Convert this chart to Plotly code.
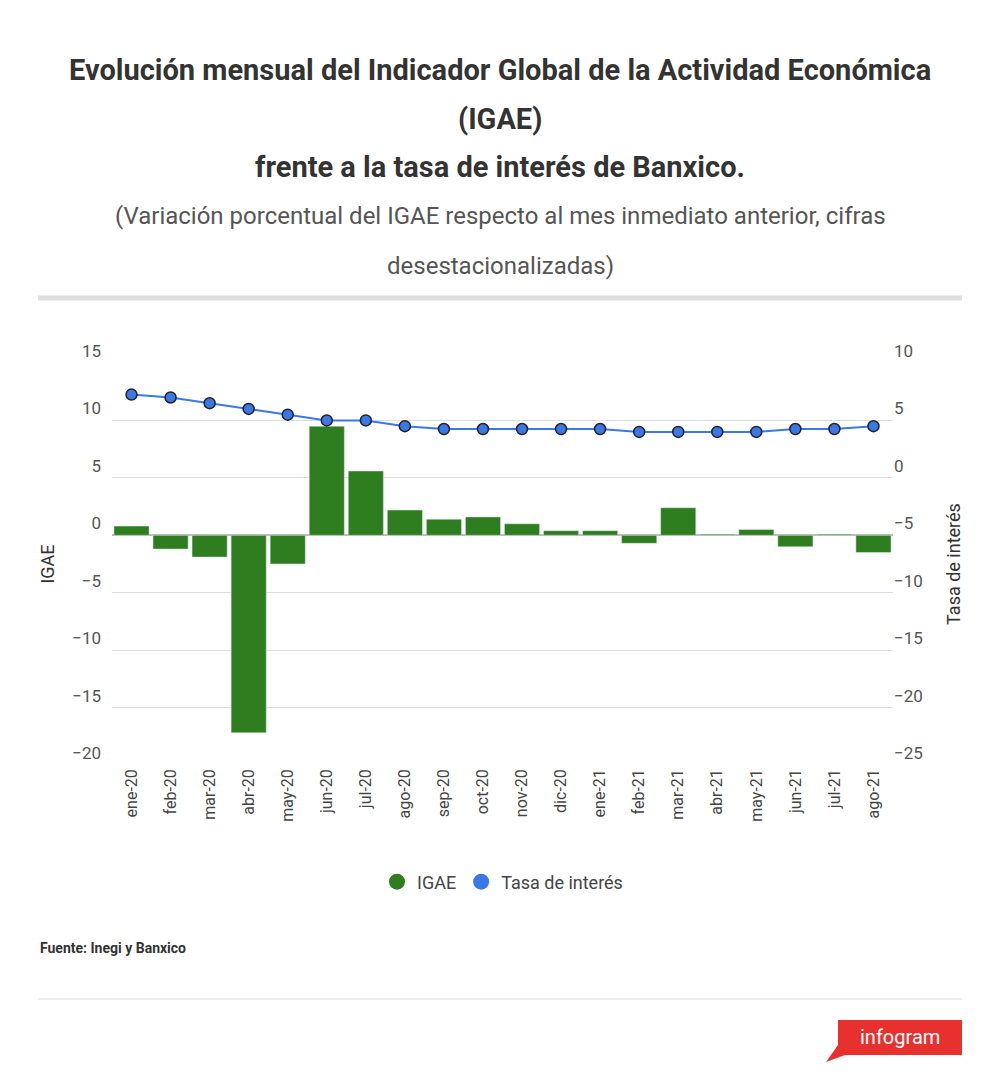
import plotly.graph_objects as go

months = ["ene-20","feb-20","mar-20","abr-20","may-20","jun-20","jul-20","ago-20","sep-20","oct-20","nov-20","dic-20",
          "ene-21","feb-21","mar-21","abr-21","may-21","jun-21","jul-21","ago-21"]
igae = [0.8,-1.2,-1.9,-17.2,-2.5,9.5,5.6,2.2,1.4,1.6,1.0,0.4,0.4,-0.7,2.4,0.1,0.5,-1.0,0.1,-1.5]
tasa = [7.25,7.0,6.5,6.0,5.5,5.0,5.0,4.5,4.25,4.25,4.25,4.25,4.25,4.0,4.0,4.0,4.0,4.25,4.25,4.5]

OFF = 8
T, B, L, R = 355, 331, 104, 115
ph = 1088 - T - B
pw = 1000 - L - R
def py(pix):
    return (1088 - B - (pix - OFF)) / ph
def px(pix):
    return ((pix - OFF) - L) / pw

GREEN, BLUE = "#2e7d1e", "#3a78e8"
fig = go.Figure()
fig.add_trace(go.Bar(x=months, y=igae, name="IGAE", marker_color=GREEN, yaxis="y", showlegend=False))
fig.add_trace(go.Scatter(x=months, y=tasa, name="Tasa de interés", yaxis="y2", mode="lines+markers",
                         line=dict(color=BLUE, width=2), showlegend=False,
                         marker=dict(size=11, color=BLUE, line=dict(color="#222", width=1.5))))
fig.add_trace(go.Scatter(x=[None], y=[None], mode="markers", name="IGAE", marker=dict(size=20, color=GREEN)))
fig.add_trace(go.Scatter(x=[None], y=[None], mode="markers", name="Tasa de interés", marker=dict(size=20, color=BLUE)))

def ann(text, x, y, size, color, xanchor="center"):
    return dict(text=text, xref="paper", yref="paper", x=px(x), y=py(y), xanchor=xanchor, yanchor="middle",
                showarrow=False, font=dict(size=size, color=color))

fig.update_layout(
    width=1000, height=1088, plot_bgcolor="white", paper_bgcolor="white",
    font=dict(family="Roboto", color="#555", size=17),
    margin=dict(l=L, r=R, t=T, b=B, autoexpand=False),
    bargap=0.1, showlegend=True,
    legend=dict(orientation="h", x=0.5, xanchor="center", y=py(882), yanchor="middle", font=dict(size=18, color="#444")),
    xaxis=dict(range=[-0.5, len(months) - 0.5], tickangle=-90, showgrid=False, tickfont=dict(size=16, color="#444"),
               ticks="", showline=False, automargin=False),
    yaxis=dict(range=[-20, 15], dtick=5, gridcolor="#ddd", zeroline=True, zerolinecolor="#bbb",
               ticklabelposition="outside top", automargin=False, ticklabelstandoff=10,
               title=dict(text="IGAE", font=dict(size=18, color="#333"), standoff=12), tickfont=dict(color="#555")),
    yaxis2=dict(range=[-25, 10], dtick=5, overlaying="y", side="right", showgrid=False, zeroline=False,
                ticklabelposition="outside top", automargin=False,
                title=dict(text="Tasa de interés", font=dict(size=18, color="#333"), standoff=25), tickfont=dict(color="#555")),
    annotations=[
        ann("<b>Evolución mensual del Indicador Global de la Actividad Económica</b>", 500, 70, 29, "#333"),
        ann("<b>(IGAE)</b>", 500, 119, 29, "#333"),
        ann("<b>frente a la tasa de interés de Banxico.</b>", 500, 167, 29, "#333"),
        ann("(Variación porcentual del IGAE respecto al mes inmediato anterior, cifras", 500, 216, 24, "#555"),
        ann("desestacionalizadas)", 500, 266, 24, "#555"),
        ann("<b>Fuente: Inegi y Banxico</b>", 38, 948, 14, "#333", xanchor="left"),
        ann("infogram", 900, 1037, 20, "white"),
    ],
    shapes=[
        dict(type="line", xref="paper", yref="paper", x0=px(38), x1=px(962), y0=py(298), y1=py(298), line=dict(color="#ddd", width=5)),
        dict(type="line", xref="paper", yref="paper", x0=px(38), x1=px(962), y0=py(999), y1=py(999), line=dict(color="#ddd", width=1)),
        dict(type="path", xref="paper", yref="paper",
             path=f"M {px(838)},{py(1020)} L {px(962)},{py(1020)} L {px(962)},{py(1055)} L {px(845)},{py(1055)} L {px(826)},{py(1062)} L {px(838)},{py(1045)} Z",
             fillcolor="#e8312f", line=dict(width=0)),
    ],
)
fig.write_html("out.html")
